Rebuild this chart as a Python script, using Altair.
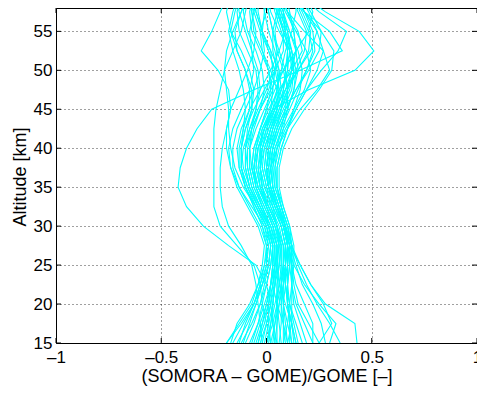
import altair as alt
import pandas as pd

# Altitude levels (km) at which each profile is sampled
ALTITUDE = [15, 17.5, 20, 22.5, 25, 27.5, 30, 32.5, 35, 37.5, 40, 42.5, 45, 47.5, 50, 52.5, 55, 57.5, 60]

# Bulk of the relative-difference profiles
CORE_PROFILES = [
    [-0.19,-0.13,-0.07,-0.04,-0.02,-0.01,-0.04,-0.09,-0.14,-0.17,-0.18,-0.16,-0.12,-0.08,-0.06,-0.07,-0.10,-0.13,-0.14],
    [-0.16,-0.11,-0.06,-0.03,0.00,0.01,-0.02,-0.06,-0.10,-0.12,-0.11,-0.08,-0.04,0.00,0.03,0.02,-0.02,-0.05,-0.06],
    [-0.14,-0.09,-0.05,-0.02,0.01,0.02,0.00,-0.05,-0.11,-0.15,-0.17,-0.18,-0.18,-0.19,-0.20,-0.19,-0.16,-0.12,-0.09],
    [-0.12,-0.07,-0.03,0.00,0.02,0.03,0.01,-0.03,-0.07,-0.09,-0.09,-0.07,-0.03,0.02,0.08,0.12,0.10,0.06,0.03],
    [-0.10,-0.06,-0.03,-0.01,0.01,0.02,-0.01,-0.07,-0.13,-0.17,-0.19,-0.19,-0.17,-0.13,-0.09,-0.06,-0.05,-0.07,-0.09],
    [-0.08,-0.04,-0.01,0.02,0.04,0.05,0.03,-0.01,-0.05,-0.07,-0.06,-0.03,0.01,0.06,0.12,0.17,0.15,0.10,0.06],
    [-0.07,-0.04,-0.02,0.00,0.02,0.03,0.01,-0.03,-0.07,-0.09,-0.10,-0.09,-0.07,-0.06,-0.08,-0.12,-0.17,-0.19,-0.17],
    [-0.05,-0.02,0.01,0.03,0.05,0.06,0.04,0.00,-0.04,-0.06,-0.05,-0.02,0.02,0.05,0.06,0.04,0.01,-0.01,-0.02],
    [-0.04,-0.01,0.01,0.02,0.03,0.03,0.00,-0.05,-0.10,-0.13,-0.14,-0.12,-0.08,-0.03,0.02,0.06,0.09,0.08,0.05],
    [-0.02,0.00,0.02,0.04,0.06,0.07,0.05,0.01,-0.03,-0.05,-0.04,-0.01,0.04,0.09,0.14,0.18,0.19,0.15,0.11],
    [-0.01,0.01,0.03,0.04,0.05,0.05,0.02,-0.02,-0.06,-0.08,-0.08,-0.06,-0.03,-0.01,-0.02,-0.05,-0.09,-0.11,-0.10],
    [0.00,0.02,0.04,0.06,0.08,0.09,0.07,0.03,-0.01,-0.03,-0.02,0.01,0.05,0.08,0.10,0.10,0.07,0.04,0.02],
    [0.01,0.02,0.03,0.04,0.04,0.04,0.01,-0.04,-0.08,-0.10,-0.10,-0.08,-0.05,-0.03,-0.04,-0.07,-0.08,-0.06,-0.03],
    [0.02,0.04,0.06,0.07,0.08,0.08,0.06,0.02,-0.02,-0.04,-0.03,0.00,0.04,0.09,0.15,0.21,0.24,0.20,0.15],
    [0.03,0.04,0.05,0.05,0.06,0.06,0.03,-0.01,-0.05,-0.07,-0.06,-0.03,0.00,0.02,0.01,-0.02,-0.03,0.00,0.02],
    [0.04,0.05,0.06,0.08,0.10,0.11,0.09,0.05,0.01,-0.01,0.00,0.03,0.07,0.11,0.13,0.12,0.09,0.05,0.02],
    [0.05,0.05,0.05,0.06,0.07,0.07,0.04,0.00,-0.04,-0.06,-0.05,-0.03,0.00,0.04,0.08,0.14,0.20,0.22,0.18],
    [0.06,0.07,0.07,0.08,0.09,0.09,0.07,0.03,-0.01,-0.03,-0.03,-0.01,0.02,0.03,0.01,-0.03,-0.07,-0.08,-0.06],
    [0.07,0.06,0.05,0.05,0.06,0.07,0.05,0.01,-0.03,-0.05,-0.04,-0.01,0.03,0.07,0.10,0.11,0.10,0.08,0.06],
    [0.08,0.08,0.08,0.09,0.10,0.10,0.08,0.04,0.00,-0.02,-0.01,0.02,0.06,0.10,0.15,0.20,0.21,0.17,0.12],
    [0.09,0.08,0.07,0.07,0.08,0.09,0.07,0.04,0.01,0.00,0.01,0.04,0.08,0.12,0.13,0.11,0.06,0.02,0.00],
    [0.10,0.09,0.08,0.08,0.08,0.08,0.05,0.01,-0.04,-0.07,-0.08,-0.07,-0.05,-0.04,-0.05,-0.09,-0.13,-0.14,-0.11],
    [0.11,0.11,0.10,0.10,0.11,0.12,0.10,0.07,0.04,0.03,0.04,0.07,0.11,0.15,0.19,0.22,0.20,0.16,0.12],
    [0.12,0.10,0.08,0.07,0.07,0.07,0.04,0.00,-0.03,-0.04,-0.02,0.01,0.04,0.06,0.05,0.03,0.03,0.05,0.06],
    [0.13,0.12,0.10,0.09,0.09,0.10,0.08,0.05,0.02,0.01,0.03,0.06,0.10,0.13,0.14,0.12,0.08,0.05,0.03],
    [0.15,0.13,0.11,0.10,0.10,0.11,0.09,0.06,0.03,0.03,0.05,0.09,0.14,0.19,0.24,0.27,0.24,0.18,0.13],
    [0.17,0.14,0.11,0.09,0.08,0.08,0.05,0.01,-0.02,-0.03,-0.01,0.02,0.05,0.07,0.06,0.02,-0.02,-0.04,-0.04],
    [0.19,0.16,0.13,0.12,0.12,0.12,0.10,0.07,0.05,0.05,0.07,0.10,0.13,0.16,0.17,0.15,0.11,0.07,0.04],
    [0.22,0.18,0.14,0.12,0.11,0.11,0.09,0.05,0.02,0.01,0.02,0.05,0.09,0.14,0.20,0.25,0.26,0.21,0.15],
    [0.25,0.20,0.15,0.13,0.12,0.12,0.10,0.07,0.04,0.04,0.06,0.08,0.10,0.10,0.08,0.05,0.04,0.06,0.08],
    [-0.11,-0.08,-0.05,-0.02,0.00,0.00,-0.03,-0.08,-0.13,-0.16,-0.16,-0.14,-0.10,-0.06,-0.03,-0.01,-0.02,-0.05,-0.07],
    [-0.06,-0.03,0.00,0.02,0.03,0.04,0.02,-0.02,-0.06,-0.08,-0.08,-0.05,-0.01,0.03,0.04,0.01,-0.03,-0.06,-0.07],
    [0.00,0.03,0.05,0.07,0.09,0.10,0.09,0.06,0.03,0.02,0.04,0.08,0.13,0.18,0.21,0.19,0.14,0.09,0.05],
    [0.04,0.03,0.03,0.04,0.05,0.05,0.02,-0.03,-0.08,-0.11,-0.12,-0.11,-0.10,-0.11,-0.13,-0.16,-0.18,-0.16,-0.13],
    [0.08,0.10,0.11,0.12,0.13,0.13,0.11,0.08,0.05,0.04,0.05,0.07,0.09,0.10,0.09,0.06,0.03,0.01,0.00],
    [0.14,0.12,0.09,0.06,0.05,0.05,0.03,0.00,-0.02,-0.03,-0.02,0.00,0.03,0.05,0.07,0.09,0.12,0.14,0.14],
    [-0.03,0.00,0.02,0.03,0.04,0.04,0.01,-0.04,-0.09,-0.12,-0.12,-0.10,-0.06,-0.01,0.04,0.08,0.08,0.05,0.02],
    [0.02,0.01,0.01,0.02,0.03,0.03,0.01,-0.02,-0.05,-0.06,-0.04,-0.01,0.03,0.07,0.11,0.14,0.13,0.11,0.09],
    [0.10,0.12,0.12,0.12,0.12,0.12,0.09,0.05,0.01,0.00,0.01,0.03,0.05,0.05,0.02,-0.02,-0.06,-0.07,-0.05],
    [-0.13,-0.10,-0.06,-0.03,-0.01,0.00,-0.02,-0.06,-0.10,-0.13,-0.13,-0.11,-0.08,-0.08,-0.10,-0.14,-0.15,-0.12,-0.08],
]

# Profiles that stray far from the bundle in the middle / upper stratosphere
OUTLIER_PROFILES = [
    [0.05,0.03,0.02,0.00,-0.05,-0.18,-0.30,-0.38,-0.42,-0.41,-0.38,-0.33,-0.26,-0.06,0.16,0.36,0.30,0.18,0.10],
    [0.02,0.00,-0.02,-0.03,-0.06,-0.14,-0.22,-0.25,-0.25,-0.25,-0.25,-0.25,-0.24,-0.22,-0.20,-0.16,-0.12,-0.10,-0.08],
    [-0.02,-0.03,-0.04,-0.05,-0.07,-0.12,-0.18,-0.21,-0.22,-0.22,-0.21,-0.19,-0.17,-0.18,-0.23,-0.31,-0.26,-0.22,-0.18],
    [0.10,0.08,0.05,0.03,0.04,0.06,0.05,0.02,0.00,-0.02,-0.03,-0.02,0.03,0.20,0.42,0.51,0.44,0.28,0.15],
    [0.14,0.12,0.10,0.09,0.09,0.10,0.09,0.07,0.05,0.05,0.07,0.10,0.14,0.19,0.26,0.34,0.38,0.25,0.15],
    [0.12,0.11,0.10,0.10,0.11,0.12,0.11,0.08,0.06,0.06,0.08,0.12,0.18,0.25,0.31,0.32,0.26,0.18,0.12],
    [-0.04,-0.02,0.00,0.02,0.04,0.06,0.05,0.03,0.01,0.02,0.05,0.10,0.16,0.24,0.30,0.27,0.18,0.10,0.05],
]

# Profiles with large positive differences in the lower stratosphere
LOW_RIGHT_PROFILES = [
    [0.43,0.42,0.28,0.21,0.16,0.11,0.08,0.05,0.03,0.02,0.03,0.05,0.07,0.08,0.09,0.10,0.09,0.07,0.05],
    [0.30,0.33,0.25,0.18,0.13,0.10,0.08,0.05,0.02,0.00,0.01,0.03,0.06,0.09,0.12,0.14,0.13,0.10,0.07],
    [0.35,0.30,0.24,0.19,0.15,0.12,0.09,0.06,0.03,0.02,0.03,0.06,0.10,0.13,0.15,0.14,0.11,0.08,0.05],
    [0.25,0.31,0.27,0.21,0.16,0.12,0.09,0.05,0.01,-0.01,0.00,0.02,0.05,0.06,0.04,0.01,-0.02,-0.01,0.01],
    [0.28,0.26,0.22,0.17,0.14,0.11,0.08,0.04,0.01,0.00,0.02,0.05,0.09,0.14,0.19,0.23,0.22,0.18,0.14],
    [0.22,0.22,0.18,0.14,0.12,0.10,0.08,0.05,0.02,0.01,0.02,0.04,0.07,0.10,0.12,0.11,0.08,0.06,0.04],
]

# Profiles with negative differences in the lower stratosphere
LOW_LEFT_PROFILES = [
    [-0.19,-0.12,-0.06,-0.02,0.01,0.02,0.00,-0.04,-0.08,-0.10,-0.10,-0.07,-0.03,0.01,0.04,0.05,0.03,0.01,0.00],
    [-0.17,-0.14,-0.08,-0.04,-0.01,0.01,-0.01,-0.05,-0.09,-0.12,-0.12,-0.10,-0.07,-0.07,-0.10,-0.14,-0.17,-0.15,-0.12],
]

X_TICKS = [-1, -0.5, 0, 0.5, 1]
Y_TICKS = [15, 20, 25, 30, 35, 40, 45, 50, 55]
X_DOMAIN = [-1, 1]
Y_DOMAIN = [15, 58]

W, H = 421, 335
FONT = "Liberation Sans"
CYAN = "#00FFFF"

rows = []
pid = 0
for group in (CORE_PROFILES, OUTLIER_PROFILES, LOW_RIGHT_PROFILES, LOW_LEFT_PROFILES):
    for prof in group:
        for a, v in zip(ALTITUDE, prof):
            rows.append({"id": pid, "alt": a, "val": v})
        pid += 1
df = pd.DataFrame(rows)

xscale = alt.Scale(domain=X_DOMAIN, nice=False, zero=False)
yscale = alt.Scale(domain=Y_DOMAIN, nice=False, zero=False)

x_label_expr = "datum.value == 0 ? '0' : (datum.value < 0 ? '\u2013' : '') + toString(abs(datum.value))"

x_axis = alt.Axis(values=X_TICKS, title="(SOMORA \u2013 GOME)/GOME [\u2013]",
                  labelExpr=x_label_expr, labelBaseline="alphabetic", labelFlush=False,
                  labelPadding=19, titleFontSize=18, titleBaseline="alphabetic",
                  titleY=38, titleX=W / 2, titleAlign="center")
y_axis = alt.Axis(values=Y_TICKS, title="Altitude [km]", labelPadding=4, labelFlush=False,
                  titleFontSize=18, titleAngle=270, titleBaseline="alphabetic",
                  titleX=-31, titleY=H / 2 + 1, titleAlign="center")

lines = alt.Chart(df).mark_line(color=CYAN, strokeWidth=1.1, clip=True).encode(
    x=alt.X("val:Q", scale=xscale, axis=x_axis),
    y=alt.Y("alt:Q", scale=yscale, axis=y_axis),
    detail="id:N",
    order="alt:Q",
)

# inward tick marks on all four sides (MATLAB style)
xt = pd.DataFrame({"val": X_TICKS})
yt = pd.DataFrame({"alt": Y_TICKS})
TL = 5
xb = alt.Chart(xt).mark_rule(color="black", strokeWidth=1).encode(
    x=alt.X("val:Q", scale=xscale, axis=x_axis), y=alt.value(H), y2=alt.value(H - TL))
xtop = alt.Chart(xt).mark_rule(color="black", strokeWidth=1).encode(
    x=alt.X("val:Q", scale=xscale, axis=x_axis), y=alt.value(0), y2=alt.value(TL))
yl = alt.Chart(yt).mark_rule(color="black", strokeWidth=1).encode(
    y=alt.Y("alt:Q", scale=yscale, axis=y_axis), x=alt.value(0), x2=alt.value(TL))
yr = alt.Chart(yt).mark_rule(color="black", strokeWidth=1).encode(
    y=alt.Y("alt:Q", scale=yscale, axis=y_axis), x=alt.value(W), x2=alt.value(W - TL))

chart = alt.layer(lines, xb, xtop, yl, yr).properties(
    width=W, height=H,
    autosize=alt.AutoSizeParams(type="none"),
    padding={"left": 48, "top": 0, "right": 0, "bottom": 43},
    background="white",
).configure_view(
    stroke="black", strokeWidth=1,
).configure_axis(
    labelFont=FONT, labelFontSize=17, labelColor="black",
    titleFont=FONT, titleColor="black", titleFontWeight="normal",
    domain=False, ticks=False,
    grid=True, gridColor="black", gridOpacity=0.75, gridDash=[1, 3], gridWidth=1,
    zindex=1,
)

chart.save("out.html", embed_options={"renderer": "svg", "actions": False})
